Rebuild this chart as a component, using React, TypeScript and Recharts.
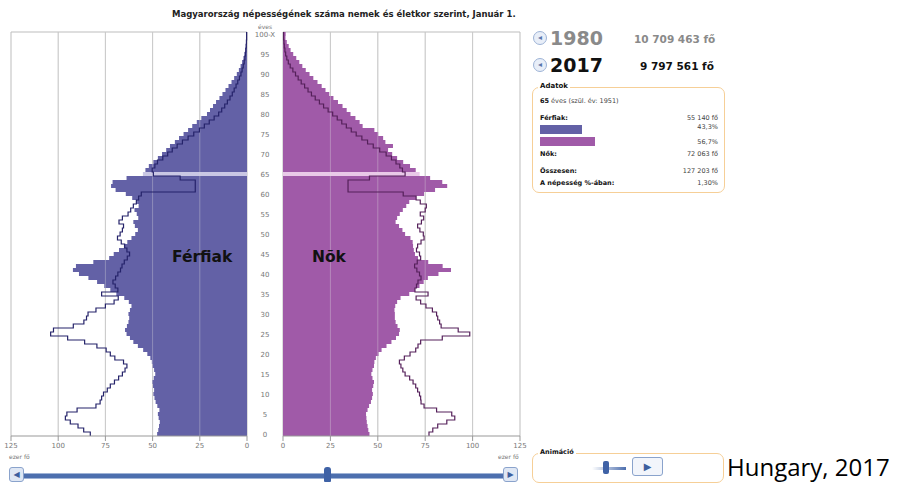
import React from 'react';
import { ComposedChart, Bar, Line, XAxis, YAxis, CartesianGrid, ReferenceLine, Cell } from 'recharts';

// age 0 .. 100 (100 = "100-X")
const AGES = Array.from({ length: 101 }, (_, i) => i);
const X_TICKS = [0, 25, 50, 75, 100, 125];
const GRID_VALUES = [25, 50, 75, 100];
const SELECTED_AGE = 65;

// thousand persons, index = age
const men2017 = [
  47.6, 47.0, 46.6, 46.2, 46.8, 47.2, 46.4, 47.5, 48.4, 49.0,
  49.6, 49.2, 49.8, 50.2, 49.4, 48.6, 49.2, 50.0, 50.4, 51.2,
  52.8, 55.0, 57.8, 60.2, 62.0, 63.8, 64.6, 63.6, 62.8, 62.4,
  62.8, 62.0, 61.2, 62.6, 65.0, 69.2, 72.4, 75.6, 79.4, 84.0,
  89.0, 92.2, 90.6, 81.4, 73.0, 70.6, 67.8, 65.2, 63.4, 61.2,
  59.2, 57.8, 59.4, 60.2, 57.6, 58.4, 59.6, 57.4, 58.2, 60.8,
  64.2, 69.6, 72.0, 71.2, 63.8, 55.14, 53.8, 52.0, 49.6, 47.2,
  45.0, 42.8, 40.8, 38.2, 36.0, 33.6, 31.2, 29.0, 26.6, 24.2,
  21.2, 19.6, 18.0, 16.4, 14.6, 13.0, 11.4, 9.8, 8.2, 6.8,
  5.4, 4.3, 3.4, 2.6, 1.9, 1.4, 1.0, 0.7, 0.5, 0.3,
  0.5,
];

const men1980 = [
  83.0, 86.5, 89.5, 93.6, 96.2, 95.4, 90.0, 80.0, 77.8, 77.0,
  76.0, 74.0, 72.4, 70.2, 68.0, 66.0, 64.6, 63.6, 65.4, 70.0,
  72.4, 74.6, 79.5, 86.0, 95.0, 104.0, 102.5, 92.0, 86.4, 85.0,
  84.2, 80.0, 75.0, 70.4, 68.2, 77.0, 68.4, 69.8, 71.0, 69.6,
  68.4, 67.0, 66.2, 65.0, 63.4, 62.2, 63.6, 64.8, 66.6, 68.6,
  67.2, 66.0, 65.4, 67.8, 66.0, 63.0, 61.6, 60.2, 58.6, 57.4,
  56.0, 27.4, 27.4, 27.4, 35.4, 49.6, 50.2, 48.8, 47.4, 44.6,
  42.0, 39.6, 37.0, 34.2, 31.2, 28.2, 25.2, 22.6, 20.0, 17.4,
  15.0, 13.4, 11.8, 10.4, 9.0, 7.8, 6.8, 5.8, 4.9, 4.0,
  3.2, 2.6, 2.0, 1.5, 1.1, 0.8, 0.6, 0.4, 0.3, 0.2,
  0.2,
];

const women2017 = [
  45.6, 45.0, 44.6, 44.2, 44.0, 43.8, 44.6, 45.4, 46.4, 47.0,
  47.4, 47.0, 47.6, 48.0, 47.2, 46.6, 47.2, 48.0, 48.2, 49.0,
  50.4, 52.0, 54.6, 57.2, 59.6, 61.2, 61.6, 60.4, 59.4, 59.0,
  59.0, 58.8, 59.2, 60.2, 62.0, 66.6, 69.6, 72.0, 74.2, 76.4,
  82.0, 88.6, 84.2, 76.6, 71.2, 69.6, 69.0, 68.6, 68.4, 67.2,
  64.4, 63.0, 61.2, 59.4, 60.2, 61.6, 63.2, 65.0, 66.6, 70.2,
  74.4, 80.2, 86.6, 84.0, 77.6, 72.06, 70.0, 67.0, 63.4, 60.2,
  57.6, 55.4, 58.0, 54.0, 52.8, 50.2, 48.2, 42.0, 40.4, 38.2,
  35.6, 33.6, 31.4, 29.0, 26.6, 24.4, 22.4, 20.4, 18.2, 16.0,
  14.0, 12.0, 10.2, 8.6, 7.0, 5.4, 4.0, 3.0, 2.0, 1.3,
  1.4,
];

const women1980 = [
  77.0, 79.0, 81.6, 86.4, 90.6, 89.0, 81.0, 74.4, 72.8, 72.6,
  72.0, 71.0, 70.0, 68.6, 66.8, 64.4, 63.2, 62.2, 61.4, 64.0,
  67.0, 70.0, 71.2, 72.6, 84.0, 98.5, 92.4, 83.4, 82.6, 81.6,
  81.0, 78.8, 75.4, 72.6, 70.2, 76.5, 69.6, 70.4, 71.2, 72.8,
  72.0, 70.6, 69.4, 70.8, 72.6, 72.0, 70.4, 71.0, 72.8, 74.4,
  74.0, 72.2, 71.0, 73.0, 74.2, 72.4, 75.0, 75.6, 72.4, 70.2,
  63.4, 34.3, 34.3, 34.3, 45.6, 64.4, 63.0, 61.6, 59.6, 57.2,
  54.4, 51.0, 47.6, 44.6, 41.6, 38.6, 36.0, 33.4, 31.0, 28.6,
  26.2, 23.8, 21.4, 19.2, 17.0, 15.0, 13.2, 11.4, 9.6, 8.0,
  6.6, 5.2, 3.8, 2.8, 2.0, 1.4, 1.0, 0.7, 0.5, 0.3,
  0.3,
];

const MEN = '#6361a6';
const MEN_HI = '#c9c7e4';
const MEN_OUT = '#25236a';
const WOMEN = '#a05aa8';
const WOMEN_HI = '#e9c9e8';
const WOMEN_OUT = '#55205a';

// top row first (oldest age at the top)
const rows = AGES.slice().reverse().map((a) => ({
  age: a,
  m17: men2017[a],
  m80: men1980[a],
  f17: women2017[a],
  f80: women1980[a],
}));

// step curve that runs vertically: each value is a vertical segment over its age band
const curveStepY = (context: any) => {
  let n = 0, px = 0, py = 0, x0 = 0, y0 = 0, dy = 0;
  let line = NaN;
  return {
    areaStart() { line = 0; },
    areaEnd() { line = NaN; },
    lineStart() { n = 0; },
    lineEnd() {
      if (n === 1) context.moveTo(x0, y0);
      if (n >= 2) context.lineTo(px, py + dy / 2);
      line = 1 - line;
    },
    point(x: number, y: number) {
      x = +x; y = +y;
      if (n === 0) {
        x0 = x; y0 = y; n = 1;
      } else {
        if (n === 1) {
          dy = y - y0;
          context.moveTo(x0, y0 - dy / 2);
          n = 2;
        }
        const my = (py + y) / 2;
        context.lineTo(px, my);
        context.lineTo(x, my);
      }
      px = x; py = y;
    },
  };
};

const font = '"DejaVu Sans", Verdana, sans-serif';
const tickStyle = { fontSize: 7, fill: '#777', fontFamily: font };
const topLine = (p: any) => [p.offset.top];

const AgeTick = (props: any) => {
  const { x, y, payload } = props;
  const v = payload.value;
  if (v % 5 !== 0) return null;
  return (
    <text x={x - 18} y={y} dy={2.5} textAnchor="middle" fontSize={7} fill="#777" fontFamily={font}>
      {v === 100 ? '100-X' : v}
    </text>
  );
};

const abs = (left: number, top: number, extra: React.CSSProperties = {}): React.CSSProperties => ({
  position: 'absolute', left, top, whiteSpace: 'nowrap', lineHeight: 1, ...extra,
});

const Row = ({ top, label, value }: { top: number; label: React.ReactNode; value: string }) => (
  <>
    <div style={abs(540, top, { fontSize: 6.5 })}>{label}</div>
    <div style={abs(600, top, { fontSize: 6.5, width: 118, textAlign: 'right', color: '#444' })}>{value}</div>
  </>
);

const Icon = ({ left, top }: { left: number; top: number }) => (
  <div style={abs(left, top, {
    width: 12, height: 12, borderRadius: 7, border: '1.5px solid #9db3d6', background: '#e8eef8',
    color: '#5a78ad', fontSize: 8, textAlign: 'center', lineHeight: '12px', fontWeight: 'bold',
  })}>◂</div>
);

const SliderButton = ({ left, dir }: { left: number; dir: string }) => (
  <div style={abs(left, 467, {
    width: 13, height: 13, borderRadius: 3, border: '1.5px solid #8aa3cc', background: '#dfe7f4',
    color: '#3d5f9e', fontSize: 8, textAlign: 'center', lineHeight: '13px',
  })}>{dir}</div>
);

export default function App() {
  return (
    <div style={{ position: 'absolute', left: 0, top: 0, width: 899, height: 492, background: '#fff', fontFamily: font, color: '#111', overflow: 'hidden' }}>
      <div style={abs(172, 10, { fontSize: 8.5, fontWeight: 'bold', color: '#222' })}>
        Magyarország népességének száma nemek és életkor szerint, Január 1.
      </div>
      <div style={abs(255, 24, { fontSize: 6, color: '#777', width: 20, textAlign: 'center' })}>éves</div>

      {/* men */}
      <div style={{ position: 'absolute', left: 0, top: 0 }}>
        <ComposedChart width={262} height={470} data={rows} layout="vertical"
          margin={{ top: 32, left: 11, right: 15, bottom: 4 }} barCategoryGap={0} barGap={0}>
          <CartesianGrid stroke="#bdbdbd" horizontalCoordinatesGenerator={topLine} />
          <XAxis type="number" domain={[0, 125]} ticks={X_TICKS} reversed interval={0} height={30}
            tick={tickStyle} tickSize={5} tickMargin={2} stroke="#999" />
          <YAxis type="category" dataKey="age" hide />
          <Bar dataKey="m17" fill={MEN} isAnimationActive={false}>
            {rows.map((r) => <Cell key={r.age} fill={r.age === SELECTED_AGE ? MEN_HI : MEN} />)}
          </Bar>
          {GRID_VALUES.map((v) => <ReferenceLine key={v} x={v} stroke="#e0e0e0" strokeOpacity={0.35} />)}
          <Line dataKey="m80" type={curveStepY as any} stroke={MEN_OUT} strokeWidth={1.2} dot={false} isAnimationActive={false} />
        </ComposedChart>
      </div>

      {/* women */}
      <div style={{ position: 'absolute', left: 247, top: 0 }}>
        <ComposedChart width={290} height={470} data={rows} layout="vertical"
          margin={{ top: 32, left: 0, right: 17, bottom: 4 }} barCategoryGap={0} barGap={0}>
          <CartesianGrid stroke="#bdbdbd" horizontalCoordinatesGenerator={topLine} />
          <XAxis type="number" domain={[0, 125]} ticks={X_TICKS} interval={0} height={30}
            tick={tickStyle} tickSize={5} tickMargin={2} stroke="#999" />
          <YAxis type="category" dataKey="age" width={36} interval={0} axisLine={false} tickLine={false}
            tickSize={0} tickMargin={0} tick={<AgeTick />} />
          <Bar dataKey="f17" fill={WOMEN} isAnimationActive={false}>
            {rows.map((r) => <Cell key={r.age} fill={r.age === SELECTED_AGE ? WOMEN_HI : WOMEN} />)}
          </Bar>
          {GRID_VALUES.map((v) => <ReferenceLine key={v} x={v} stroke="#e0e0e0" strokeOpacity={0.35} />)}
          <Line dataKey="f80" type={curveStepY as any} stroke={WOMEN_OUT} strokeWidth={1.2} dot={false} isAnimationActive={false} />
        </ComposedChart>
      </div>

      <div style={abs(172, 250, { fontSize: 15.5, fontWeight: 'bold' })}>Férfiak</div>
      <div style={abs(312, 250, { fontSize: 15.5, fontWeight: 'bold' })}>Nõk</div>

      <div style={abs(9, 454, { fontSize: 6, color: '#777' })}>ezer fő</div>
      <div style={abs(498, 454, { fontSize: 6, color: '#777' })}>ezer fő</div>

      {/* year slider */}
      <div style={abs(24, 473, { width: 482, height: 4, background: '#4d6fae', borderTop: '1px solid #9fb3d6', borderBottom: '1px solid #9fb3d6' })} />
      <div style={abs(324, 467, { width: 7, height: 15, borderRadius: '3px 3px 1px 1px', background: '#3f62a6' })} />
      <SliderButton left={9} dir="◀" />
      <SliderButton left={503} dir="▶" />

      {/* years */}
      <Icon left={533} top={31} />
      <div style={abs(550, 29, { fontSize: 19, fontWeight: 'bold', color: '#8a8a8a' })}>1980</div>
      <div style={abs(634, 34, { fontSize: 10.5, fontWeight: 'bold', color: '#8a8a8a' })}>10 709 463 fő</div>
      <Icon left={533} top={58} />
      <div style={abs(550, 56, { fontSize: 19, fontWeight: 'bold', color: '#111' })}>2017</div>
      <div style={abs(640, 61, { fontSize: 10.5, fontWeight: 'bold', color: '#111' })}>9 797 561 fő</div>

      {/* info box */}
      <div style={abs(532, 87, { width: 191, height: 104, border: '1.5px solid #f6cf97', borderRadius: 7 })} />
      <div style={abs(538, 83, { fontSize: 7, fontWeight: 'bold', background: '#fff', padding: '0 2px' })}>Adatok</div>
      <div style={abs(540, 98, { fontSize: 6.5, color: '#444' })}><b style={{ color: '#111' }}>65</b> éves (szül. év: 1951)</div>
      <Row top={115} label={<b>Férfiak:</b>} value="55 140 fő" />
      <div style={abs(540, 125, { width: 42, height: 9, background: MEN })} />
      <div style={abs(600, 124, { fontSize: 6.5, width: 118, textAlign: 'right', color: '#444' })}>43,3%</div>
      <div style={abs(540, 137, { width: 55, height: 9, background: WOMEN })} />
      <div style={abs(600, 139, { fontSize: 6.5, width: 118, textAlign: 'right', color: '#444' })}>56,7%</div>
      <Row top={151} label={<b>Nők:</b>} value="72 063 fő" />
      <Row top={168} label={<b>Összesen:</b>} value="127 203 fő" />
      <Row top={180} label={<b>A népesség %-ában:</b>} value="1,30%" />

      {/* animation box */}
      <div style={abs(532, 453, { width: 190, height: 28, border: '1.5px solid #f6cf97', borderRadius: 7 })} />
      <div style={abs(538, 449, { fontSize: 6.5, fontWeight: 'bold', background: '#fff', padding: '0 2px' })}>Animáció</div>
      <div style={abs(592, 467, { width: 34, height: 3, background: 'linear-gradient(90deg, #fff, #4d6fae)' })} />
      <div style={abs(603, 461, { width: 6, height: 13, borderRadius: 2, background: '#3f62a6' })} />
      <div style={abs(632, 457, {
        width: 29, height: 17, borderRadius: 3, border: '1.5px solid #8aa3cc', background: '#f2f5fb',
        color: '#3d5f9e', fontSize: 10, textAlign: 'center', lineHeight: '17px',
      })}>▶</div>

      <div style={abs(727, 455, { fontSize: 24, fontFamily: '"Open Sans", "Noto Sans", sans-serif', color: '#000' })}>Hungary, 2017</div>
    </div>
  );
}
